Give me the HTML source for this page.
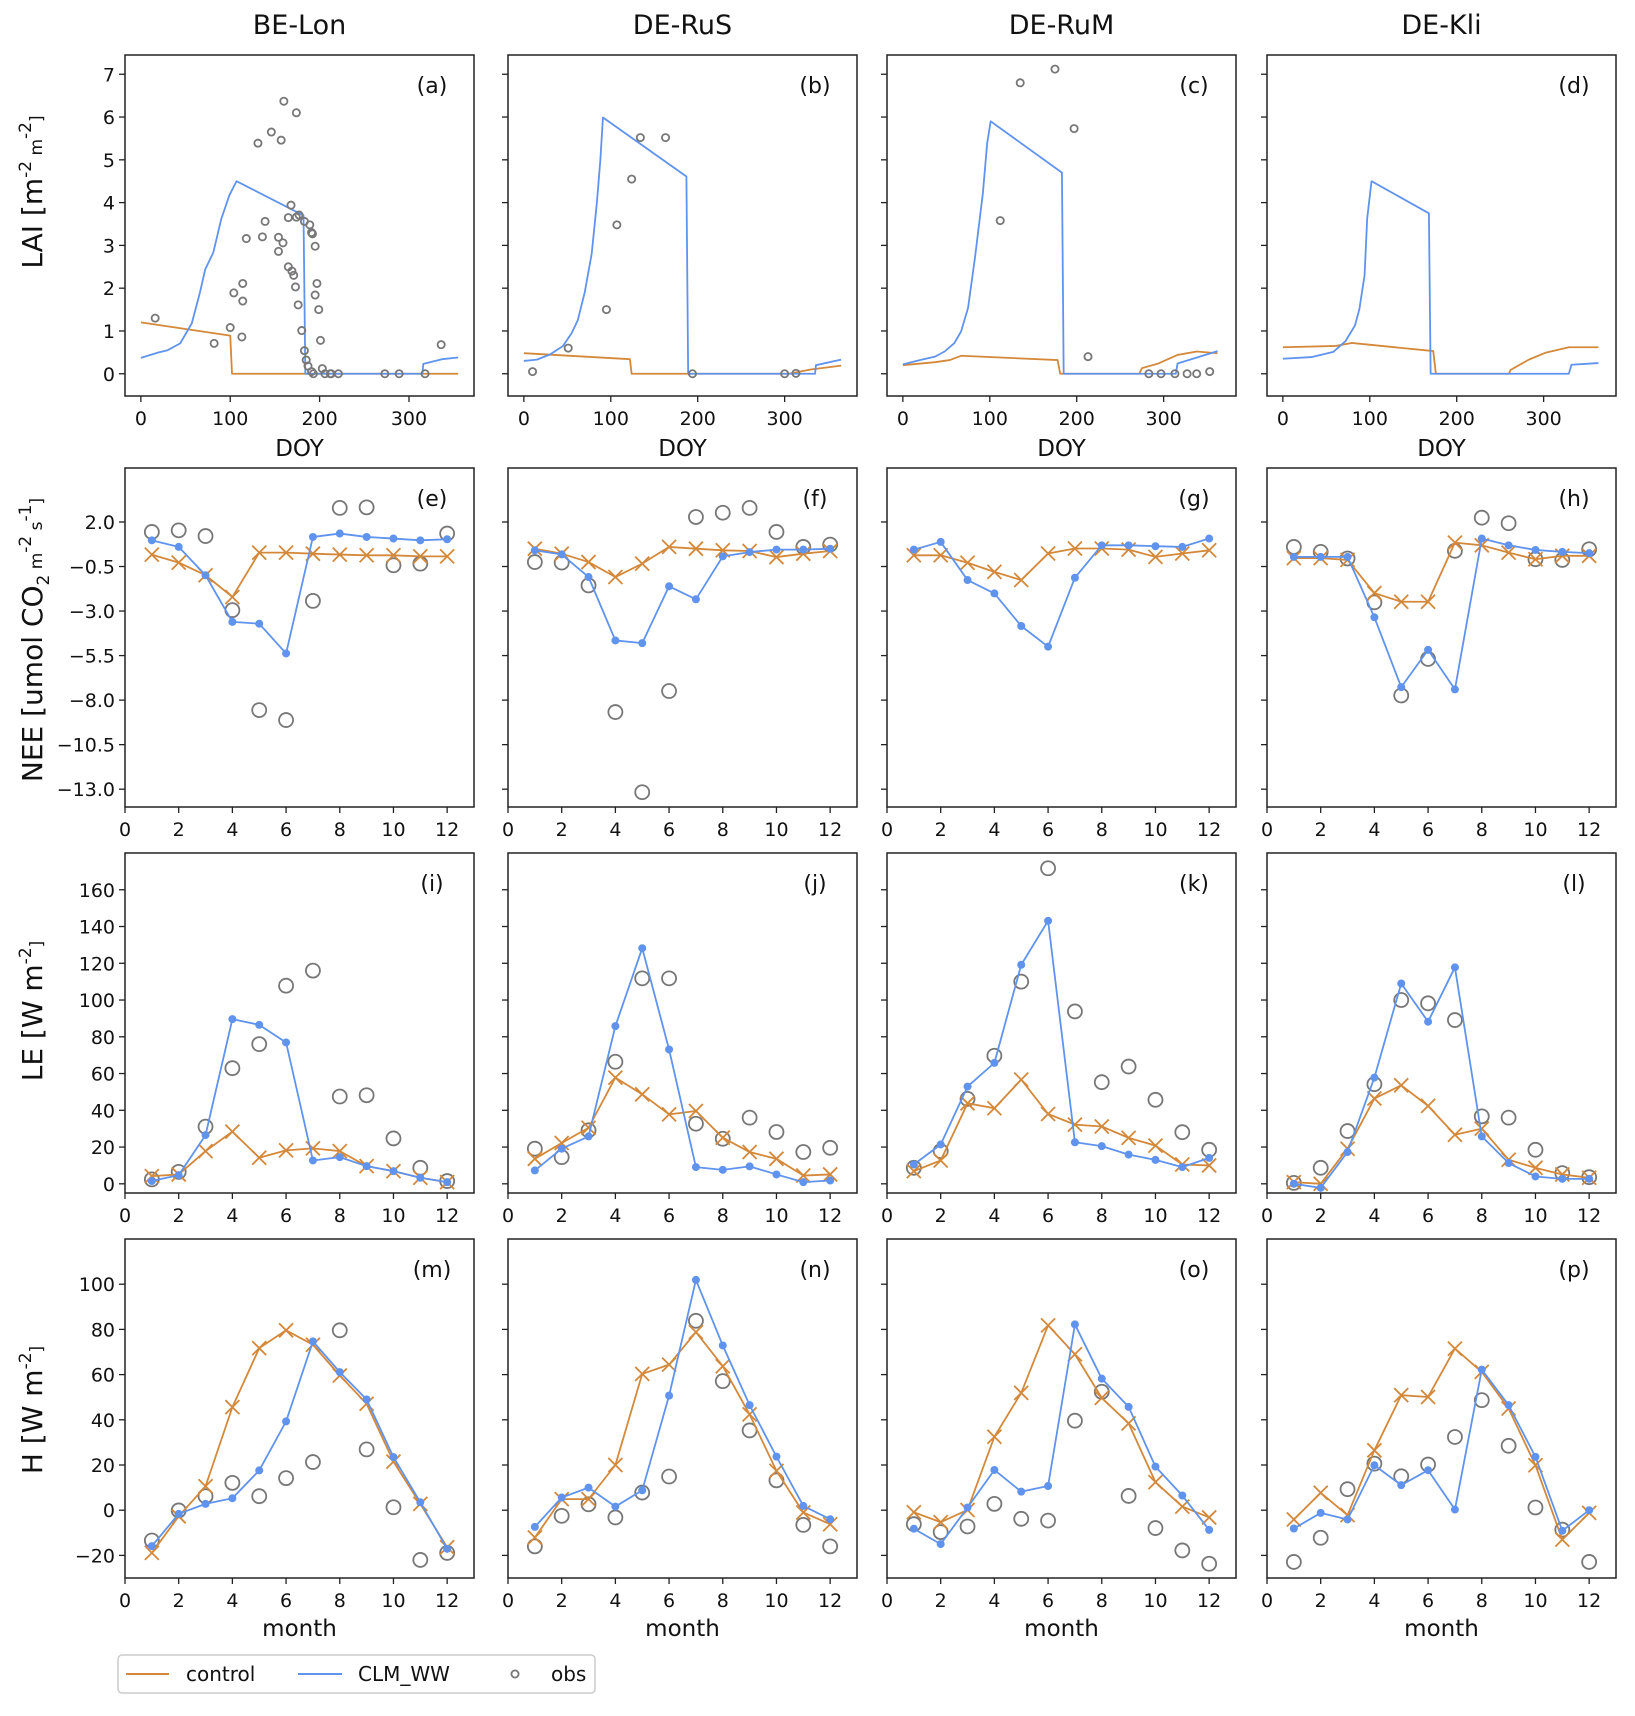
<!DOCTYPE html>
<html><head><meta charset="utf-8"><style>
html,body{margin:0;padding:0;background:#fff;}
svg{display:block;font-family:"DejaVu Sans","Liberation Sans",sans-serif;}
</style></head><body>
<svg id="fig" width="1635" height="1716" viewBox="0 0 1635 1716" xmlns="http://www.w3.org/2000/svg"></svg>
<script>
// ---------- DATA ----------
const sites = ["BE-Lon","DE-RuS","DE-RuM","DE-Kli"];
const panelLetters = ["a","b","c","d","e","f","g","h","i","j","k","l","m","n","o","p"];
const months = [1,2,3,4,5,6,7,8,9,10,11,12];
const doyTicks = [0,100,200,300];
const monthTicks = [0,2,4,6,8,10,12];
const laiTicks = [0,1,2,3,4,5,6,7];
const neeTicks = [2.0,-0.5,-3.0,-5.5,-8.0,-10.5,-13.0];
const leTicks = [0,20,40,60,80,100,120,140,160];
const hTicks = [-20,0,20,40,60,80,100];

// LAI (row 1)
const laiA_ctrl_doy = [0,100,102,355];
const laiA_ctrl_val = [1.2,0.89,0,0];
const laiA_ww_doy = [0,20,30,44,57,66,72,81,90,99,107,182,184,315,316,337,355];
const laiA_ww_val = [0.37,0.5,0.55,0.71,1.18,1.89,2.44,2.83,3.62,4.17,4.5,3.7,0,0,0.23,0.34,0.38];
const laiA_obs_doy = [16,82,100,104,114,114,113,118,131,136,139,146,154,154,159,157,160,165,165,169,168,171,173,174,174,176,177,180,183,183,185,187,189,191,192,191,193,195,195,197,199,201,203,206,212,213,221,273,289,318,336];
const laiA_obs_val = [1.3,0.71,1.08,1.89,2.11,1.7,0.86,3.16,5.39,3.2,3.56,5.65,2.86,3.19,3.06,5.46,6.37,2.5,3.65,2.4,3.94,2.3,2.03,3.66,6.1,1.61,3.71,1.01,3.56,0.54,0.32,0.18,3.48,3.3,3.27,0.05,0,1.84,2.98,2.11,1.5,0.78,0.12,0,0,0,0,0,0,0,0.68];

const laiB_ctrl_doy = [0,122,124,305,330,365];
const laiB_ctrl_val = [0.48,0.34,0,0,0.1,0.19];
const laiB_ww_doy = [0,15,30,45,55,62,70,78,84,88,91,187,189,335,336,365];
const laiB_ww_val = [0.3,0.33,0.45,0.65,0.95,1.25,1.9,2.8,4.0,5.0,5.99,4.61,0,0,0.2,0.33];
const laiB_obs_doy = [10,51,95,107,124,134,163,194,300,313];
const laiB_obs_val = [0.05,0.6,1.5,3.48,4.55,5.52,5.52,0,0,0.01];

const laiC_ctrl_doy = [0,37,54,67,178,181,272,275,294,316,338,362];
const laiC_ctrl_val = [0.2,0.27,0.32,0.42,0.32,0,0,0.13,0.24,0.44,0.52,0.48];
const laiC_ww_doy = [0,20,37,48,59,67,75,83,92,97,101,183,185,314,316,362];
const laiC_ww_val = [0.22,0.32,0.4,0.52,0.71,0.99,1.54,2.72,4.21,5.39,5.9,4.7,0,0,0.24,0.53];
const laiC_obs_doy = [112,135,175,197,213,283,297,313,327,338,353];
const laiC_obs_val = [3.58,6.8,7.12,5.73,0.4,0,0,0,0,0,0.05];

const laiD_ctrl_doy = [0,61,79,173,176,260,262,283,302,329,363];
const laiD_ctrl_val = [0.62,0.65,0.72,0.53,0,0,0.09,0.33,0.49,0.62,0.62];
const laiD_ww_doy = [0,33,58,72,83,88,94,97,102,168,170,329,332,363];
const laiD_ww_val = [0.35,0.39,0.51,0.76,1.13,1.51,2.3,3.63,4.5,3.75,0,0,0.21,0.25];
const laiD_obs_doy = [];
const laiD_obs_val = [];

// NEE (row 2)
const neeCtrl_BELon = [0.17,-0.28,-0.99,-2.21,0.28,0.28,0.22,0.17,0.13,0.13,0.07,0.07];
const neeWW_BELon = [0.97,0.6,-0.99,-3.61,-3.71,-5.38,1.16,1.35,1.16,1.07,0.97,1.03];
const neeObs_BELon = [1.44,1.53,1.21,-2.95,-8.56,-9.12,-2.43,2.79,2.82,-0.43,-0.34,1.35];
const neeCtrl_DERuS = [0.5,0.22,-0.25,-1.09,-0.34,0.6,0.5,0.41,0.37,0.03,0.22,0.37];
const neeWW_DERuS = [0.41,0.18,-1.09,-4.65,-4.8,-1.61,-2.34,0.07,0.31,0.45,0.45,0.5];
const neeObs_DERuS = [-0.25,-0.28,-1.56,-8.67,-13.17,-7.49,2.28,2.52,2.79,1.44,0.6,0.73];
const neeCtrl_DERuM = [0.13,0.13,-0.29,-0.8,-1.26,0.23,0.51,0.51,0.45,0.04,0.23,0.41];
const neeWW_DERuM = [0.45,0.88,-1.26,-2.01,-3.84,-5.0,-1.13,0.69,0.69,0.64,0.6,1.07];
const neeObs_DERuM = [];
const neeCtrl_DEKli = [-0.03,-0.03,-0.13,-1.99,-2.48,-2.48,0.84,0.69,0.28,-0.09,0.1,0.1];
const neeWW_DEKli = [0.04,0.04,0.04,-3.35,-7.27,-5.18,-7.4,1.07,0.69,0.43,0.32,0.25];
const neeObs_DEKli = [0.6,0.32,-0.05,-2.51,-7.74,-5.69,0.38,2.24,1.93,-0.09,-0.13,0.47];

// LE (row 3)
const leCtrl_BELon = [4.2,5.1,17.8,28.4,14.2,18.2,19.3,17.8,9.6,6.9,3.3,0.9];
const leWW_BELon = [1.5,4.7,26.5,89.6,86.5,76.9,12.7,14.5,9.6,6.9,3.3,0.9];
const leObs_BELon = [2.4,6.5,31.1,62.9,76,107.8,116,47.5,48.2,24.7,8.7,1.5];
const leCtrl_DERuS = [13.6,22.2,30.5,57.8,48.7,37.8,39.6,25.1,17.3,13.6,4.5,5.1];
const leWW_DERuS = [7.3,19.1,25.8,85.8,128.2,73.1,9.1,7.6,9.5,5.1,0.9,1.8];
const leObs_DERuS = [19.1,14.5,29.1,66.4,111.8,111.8,32.7,24.5,36,28.2,17.3,19.6];
const leCtrl_DERuM = [6.9,12.7,43.8,41.1,56.7,38,32.2,31.2,25,20.8,10.5,10];
const leWW_DERuM = [10.5,21.4,52.9,65.8,119.2,143.1,22.6,20.5,15.9,13,9.1,14.1];
const leObs_DERuM = [8.7,17.8,46.2,69.7,110,171.7,93.8,55.3,63.8,45.7,28.1,18.5];
const leCtrl_DEKli = [0.9,0,19.1,46.4,53.6,42.4,26.7,30,13.1,8.7,5.1,3.3];
const leWW_DEKli = [0,-2.2,17.3,57.8,109,88.2,117.8,25.8,11.3,4,2.7,2.7];
const leObs_DEKli = [0.5,8.7,28.7,54.2,100,98.2,89.1,36.7,36,18.5,5.8,3.6];

// H (row 4)
const hCtrl_BELon = [-18.9,-2.7,10.6,45.6,71.7,79.6,73.2,59.6,47.1,21.5,2.8,-16.4];
const hWW_BELon = [-15.9,-1.6,2.8,5.3,17.6,39.3,74.7,61.1,49,23.5,3.5,-17.1];
const hObs_BELon = [-13.4,-0.1,6.2,12.1,6.2,14.2,21.3,79.6,26.9,1.3,-22,-18.9];
const hCtrl_DERuS = [-12.1,4.9,4.9,20,60.3,64.4,78.8,63.7,42.4,17.4,-1,-6.2];
const hWW_DERuS = [-7.4,5.6,10,1.6,8.8,50.7,101.9,72.9,46.5,23.7,1.9,-4];
const hObs_DERuS = [-16,-2.5,2.6,-3.2,7.8,14.9,83.8,57.1,35.3,13.2,-6.5,-16];
const hCtrl_DERuM = [-0.9,-5.3,0.1,32.5,51.9,81.8,69,49.7,38.4,12.4,1.6,-3.2];
const hWW_DERuM = [-8.2,-15,1.2,17.8,8.2,10.7,82.2,58.2,45.7,19.3,6.5,-8.7];
const hObs_DERuM = [-6.2,-9.7,-7.2,2.8,-3.8,-4.6,39.6,52.4,6.3,-7.9,-17.8,-23.7];
const hCtrl_DEKli = [-4.1,7.7,-2.2,26.5,50.9,50.1,71.5,61.2,45,19.9,-13,-1.2];
const hWW_DEKli = [-8.1,-1.2,-4.1,19.9,11.1,17.7,0.3,62.2,46.5,23.6,-9.1,0];
const hObs_DEKli = [-22.9,-12.2,9.3,20.6,15,20.2,32.4,48.7,28.5,1.2,-8.6,-22.9];

// ---------- DRAWING ----------
const NS = "http://www.w3.org/2000/svg";
const svg = document.getElementById("fig");
const CTRL = "#d4883a", WW = "#5f93ee", OBS = "#777777";
const COLX = [125, 508, 887, 1267], PW = 349;
const ROWY = [[55,396],[468,807],[853,1193],[1239,1578]];

function mk(tag, attrs, parent) {
  const e = document.createElementNS(NS, tag);
  for (const k in attrs) e.setAttribute(k, attrs[k]);
  (parent || svg).appendChild(e);
  return e;
}
function fmtTick(v, dec) {
  const s = Math.abs(v).toFixed(dec);
  return (v < 0 ? "\u2212" : "") + s;
}

function drawPanel(r, c, opt) {
  const x0 = COLX[c], x1 = x0 + PW, y0 = ROWY[r][0], y1 = ROWY[r][1];
  const g = mk("g", {});
  
  
  const sx = v => x0 + (v - opt.xlim[0]) / (opt.xlim[1] - opt.xlim[0]) * (x1 - x0);
  const sy = v => y1 - (v - opt.ylim[0]) / (opt.ylim[1] - opt.ylim[0]) * (y1 - y0);

  const cid = "clip" + r + c;
  const cp = mk("clipPath", {id: cid}, g);
  mk("rect", {x: x0, y: y0, width: PW, height: y1 - y0}, cp);
  const plot = mk("g", {"clip-path": "url(#" + cid + ")"}, g);

  const xt = mk("g", {}, g);
  
  
  opt.xticks.forEach(v => {
    const px = sx(v);
    mk("line", {x1: px, x2: px, y1: y1, y2: y1 + 6, stroke: "#222", "stroke-width": 1.3}, xt);
    const t = mk("text", {x: px, y: y1 + 29, "text-anchor": "middle", "font-size": 19, fill: "#111"}, xt);
    t.textContent = String(v);
    
    
  });
  const yt = mk("g", {}, g);
  
  
  opt.yticks.forEach(v => {
    const py = sy(v);
    mk("line", {x1: x0 - 6, x2: x0, y1: py, y2: py, stroke: "#222", "stroke-width": 1.3}, yt);
    if (c === 0) {
      const t = mk("text", {x: x0 - 10, y: py + 7, "text-anchor": "end", "font-size": 19, fill: "#111"}, yt);
      t.textContent = fmtTick(v, opt.ydec);
      
      
    }
  });

  function line(xs, ys, color, name) {
    const d = xs.map((x, i) => (i ? "L" : "M") + sx(x).toFixed(2) + "," + sy(ys[i]).toFixed(2)).join("");
    const p = mk("path", {d: d, fill: "none", stroke: color, "stroke-width": 1.8, "stroke-linejoin": "round"}, plot);
    
    
  }
  function dots(xs, ys, name) {
    xs.forEach((x, i) => {
      const e = mk("circle", {cx: sx(x), cy: sy(ys[i]), r: 4, fill: WW}, plot);
      
      
    });
  }
  function crosses(xs, ys, name) {
    xs.forEach((x, i) => {
      const cx = sx(x), cy = sy(ys[i]), s = 7;
      const e = mk("path", {d: `M${cx-s},${cy-s}L${cx+s},${cy+s}M${cx-s},${cy+s}L${cx+s},${cy-s}`, stroke: CTRL, "stroke-width": 1.8, fill: "none"}, plot);
      
      
    });
  }
  function obs(xs, ys, rad, name) {
    xs.forEach((x, i) => {
      const e = mk("circle", {cx: sx(x), cy: sy(ys[i]), r: rad, fill: "none", stroke: OBS, "stroke-width": 1.8}, plot);
      
      
    });
  }
  if (opt.lai) {
    line(opt.ctrlX, opt.ctrlY, CTRL, "control-line");
    line(opt.wwX, opt.wwY, WW, "clm-ww-line");
    obs(opt.obsX, opt.obsY, 3.6, "obs-point");
  } else {
    obs(months.slice(0, opt.obs.length), opt.obs, 7, "obs-point");
    line(months, opt.ctrl, CTRL, "control-line");
    crosses(months, opt.ctrl, "control-marker");
    line(months, opt.ww, WW, "clm-ww-line");
    dots(months, opt.ww, "clm-ww-marker");
  }

  mk("rect", {x: x0, y: y0, width: PW, height: y1 - y0, fill: "none", stroke: "#222", "stroke-width": 1.5}, g);
  const lt = mk("text", {x: x1 - 42, y: y0 + 38, "text-anchor": "middle", "font-size": 22, fill: "#111"}, g);
  lt.textContent = "(" + panelLetters[r*4+c] + ")";
  
  

  if (opt.xlabel) {
    const xl = mk("text", {x: (x0 + x1) / 2, y: y1 + (r === 0 ? 60 : 58), "text-anchor": "middle", "font-size": 23, fill: "#111"}, g);
    xl.textContent = opt.xlabel;
    
    
  }
}

const laiSets = [
  [laiA_ctrl_doy, laiA_ctrl_val, laiA_ww_doy, laiA_ww_val, laiA_obs_doy, laiA_obs_val, 355],
  [laiB_ctrl_doy, laiB_ctrl_val, laiB_ww_doy, laiB_ww_val, laiB_obs_doy, laiB_obs_val, 365],
  [laiC_ctrl_doy, laiC_ctrl_val, laiC_ww_doy, laiC_ww_val, laiC_obs_doy, laiC_obs_val, 365],
  [laiD_ctrl_doy, laiD_ctrl_val, laiD_ww_doy, laiD_ww_val, laiD_obs_doy, laiD_obs_val, 365]
];
laiSets.forEach((s, c) => {
  drawPanel(0, c, {lai: true, ctrlX: s[0], ctrlY: s[1], wwX: s[2], wwY: s[3], obsX: s[4], obsY: s[5],
    xlim: [-0.05 * s[6], 1.05 * s[6]], ylim: [-0.52, 7.45], xticks: doyTicks, yticks: laiTicks, ydec: 0, xlabel: "DOY"});
});
const neeSets = [[neeCtrl_BELon, neeWW_BELon, neeObs_BELon],[neeCtrl_DERuS, neeWW_DERuS, neeObs_DERuS],[neeCtrl_DERuM, neeWW_DERuM, neeObs_DERuM],[neeCtrl_DEKli, neeWW_DEKli, neeObs_DEKli]];
neeSets.forEach((s, c) => drawPanel(1, c, {ctrl: s[0], ww: s[1], obs: s[2], xlim: [0, 13], ylim: [-14, 5.03], xticks: monthTicks, yticks: neeTicks, ydec: 1}));
const leSets = [[leCtrl_BELon, leWW_BELon, leObs_BELon],[leCtrl_DERuS, leWW_DERuS, leObs_DERuS],[leCtrl_DERuM, leWW_DERuM, leObs_DERuM],[leCtrl_DEKli, leWW_DEKli, leObs_DEKli]];
leSets.forEach((s, c) => drawPanel(2, c, {ctrl: s[0], ww: s[1], obs: s[2], xlim: [0, 13], ylim: [-5, 180], xticks: monthTicks, yticks: leTicks, ydec: 0}));
const hSets = [[hCtrl_BELon, hWW_BELon, hObs_BELon],[hCtrl_DERuS, hWW_DERuS, hObs_DERuS],[hCtrl_DERuM, hWW_DERuM, hObs_DERuM],[hCtrl_DEKli, hWW_DEKli, hObs_DEKli]];
hSets.forEach((s, c) => drawPanel(3, c, {ctrl: s[0], ww: s[1], obs: s[2], xlim: [0, 13], ylim: [-30, 120], xticks: monthTicks, yticks: hTicks, ydec: 0, xlabel: "month"}));

sites.forEach((s, c) => {
  const t = mk("text", {x: COLX[c] + PW / 2, y: 34, "text-anchor": "middle", "font-size": 27, fill: "#111"});
  t.textContent = s;
  
  
});

function ylab(cy, parts, name) {
  const t = mk("text", {x: 0, y: 0, transform: `translate(42,${cy}) rotate(-90)`, "text-anchor": "middle", "font-size": 28, fill: "#111"});
  parts.forEach(p => {
    const ts = mk("tspan", p[1] ? {"font-size": 17, dy: p[1]} : {}, t);
    ts.textContent = p[0];
  });
  
  
}
ylab(192, [["LAI [m",0],["-2",-11],[" m",11],["-2",-11],["]",11]], "y-axis-title-lai");
ylab(640, [["NEE [umol CO",0],["2",7],[" m",-7],["-2",-11],[" s",11],["-1",-11],["]",11]], "y-axis-title-nee");
ylab(1011, [["LE [W m",0],["-2",-11],["]",11]], "y-axis-title-le");
ylab(1410, [["H [W m",0],["-2",-11],["]",11]], "y-axis-title-h");

const lg = mk("g", {});


mk("rect", {x: 118, y: 1655, width: 477, height: 38, rx: 4, fill: "#fff", stroke: "#cccccc", "stroke-width": 1.5}, lg);
const le1 = mk("line", {x1: 126, x2: 169, y1: 1674, y2: 1674, stroke: CTRL, "stroke-width": 2}, lg);


const lt1 = mk("text", {x: 186, y: 1681, "font-size": 20, fill: "#111"}, lg);
lt1.textContent = "control";


const le2 = mk("line", {x1: 298, x2: 342, y1: 1674, y2: 1674, stroke: WW, "stroke-width": 2}, lg);


const lt2 = mk("text", {x: 358, y: 1681, "font-size": 20, fill: "#111"}, lg);
lt2.textContent = "CLM_WW";


const le3 = mk("circle", {cx: 515, cy: 1674, r: 3.6, fill: "none", stroke: OBS, "stroke-width": 1.8}, lg);


const lt3 = mk("text", {x: 551, y: 1681, "font-size": 20, fill: "#111"}, lg);
lt3.textContent = "obs";


</script>
</body></html>
